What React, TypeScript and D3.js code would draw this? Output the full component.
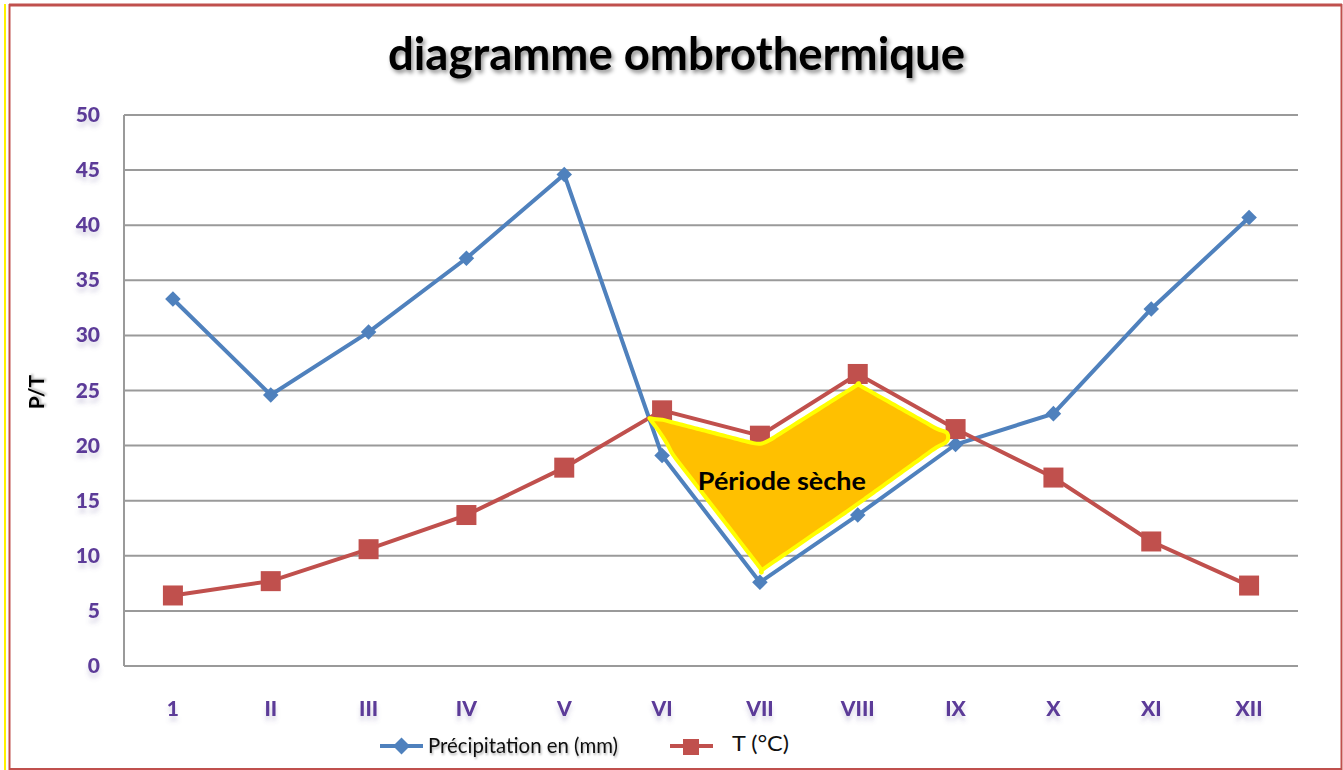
import React from "react";
import * as d3 from "d3";

const months = ["1", "II", "III", "IV", "V", "VI", "VII", "VIII", "IX", "X", "XI", "XII"];
const precipitation = [33.3, 24.6, 30.3, 37.0, 44.6, 19.1, 7.6, 13.7, 20.1, 22.9, 32.4, 40.7];
const temperature = [6.4, 7.7, 10.6, 13.7, 18.0, 23.2, 20.9, 26.5, 21.5, 17.1, 11.3, 7.3];
const yTicks = [0, 5, 10, 15, 20, 25, 30, 35, 40, 45, 50];
// months spanned by the dry period blob (from V/VI crossing to IX)
const dryStart = 4;
const dryEnd = 8;

const W = 1343;
const H = 770;
const plot = { left: 124, right: 1298, top: 115, bottom: 666 };
const BLUE = "#4F81BD";
const RED = "#C0504D";
const PURPLE = "#5B3A98";
const FONT = "Lato, 'Open Sans', sans-serif";

export default function App() {
  const x = d3.scaleBand<string>().domain(months).range([plot.left, plot.right]);
  const cx = (i: number) => (x(months[i]) as number) + x.bandwidth() / 2;
  const y = d3.scaleLinear().domain([0, 50]).range([plot.bottom, plot.top]);

  const line = d3.line<number>().x((_, i) => cx(i)).y((d) => y(d));

  // dry period: where T > P (between V-VI crossing and IX)
  const dP = precipitation[dryStart] - temperature[dryStart];
  const dP2 = precipitation[dryStart + 1] - temperature[dryStart + 1];
  const t = dP / (dP - dP2);
  const crossX = cx(dryStart) + t * (cx(dryStart + 1) - cx(dryStart));
  const endX = cx(dryEnd) - 4;
  const xs = months.map((_, i) => cx(i));
  const yAt = (arr: number[], px: number) => y(d3.scaleLinear().domain(xs).range(arr)(px));
  const N = 60;
  const topPts: [number, number][] = [];
  const botPts: [number, number][] = [];
  for (let k = 0; k <= N; k++) {
    const px = crossX + ((endX - crossX) * k) / N;
    const yt = yAt(temperature, px);
    const yp = yAt(precipitation, px);
    const gap = yp - yt;
    const inset = Math.max(0, Math.min(9, gap * 0.3));
    const h = 0.5;
    // direction of T line
    let dx = 2 * h, dy = yAt(temperature, px + h) - yAt(temperature, px - h);
    let len = Math.hypot(dx, dy);
    topPts.push([px - (dy / len) * inset, yt + (dx / len) * inset]);
    dy = yAt(precipitation, px + h) - yAt(precipitation, px - h);
    len = Math.hypot(dx, dy);
    botPts.push([px + (dy / len) * inset, yp - (dx / len) * inset]);
  }
  const blobPts = [...topPts, ...botPts.reverse()];
  const blob = d3.line().curve(d3.curveBasisClosed)(blobPts) || "";
  const labelX = (cx(dryStart + 2) + cx(dryStart + 3)) / 2 - 27;

  return (
    <svg width={W} height={H} style={{ position: "absolute", left: 0, top: 0, background: "#fff" }}>
      <defs>
        <filter id="tshadow" x="-10%" y="-30%" width="120%" height="180%">
          <feDropShadow dx="2" dy="3" stdDeviation="2" floodColor="#000" floodOpacity="0.45" />
        </filter>
        <filter id="lshadow" x="-30%" y="-30%" width="160%" height="200%">
          <feDropShadow dx="0" dy="5" stdDeviation="2" floodColor="#6a5a9a" floodOpacity="0.25" />
        </filter>
        <filter id="sshadow" x="-10%" y="-30%" width="120%" height="180%">
          <feDropShadow dx="1" dy="2" stdDeviation="1.2" floodColor="#000" floodOpacity="0.3" />
        </filter>
      </defs>
      {/* border */}
      <rect x={0} y={0} width={W} height={H} fill="#fff" />
      <line x1={5} y1={4} x2={5} y2={H} stroke="#FFF200" strokeWidth={2} />
      <rect x={9.5} y={5} width={W - 11} height={H - 6} fill="none" stroke={RED} strokeWidth={2} />
      <line x1={9} y1={5} x2={W - 1} y2={5} stroke={RED} strokeWidth={3} />

      {/* title */}
      <text x={388} y={70} textLength={577} lengthAdjust="spacingAndGlyphs" fontFamily={FONT} fontWeight={700}
        fontSize={45} fill="#000" filter="url(#tshadow)">diagramme ombrothermique</text>

      {/* grid */}
      {yTicks.map((v) => (
        <line key={"g" + v} x1={plot.left} x2={plot.right} y1={y(v)} y2={y(v)} stroke="#9a9a9a" strokeWidth={2} />
      ))}
      <line x1={plot.left} x2={plot.left} y1={plot.top} y2={plot.bottom} stroke="#9a9a9a" strokeWidth={2} />

      {/* y tick labels */}
      {yTicks.map((v) => (
        <text key={"y" + v} x={100} y={y(v) + 7} textAnchor="end" fontFamily={FONT} fontWeight={900}
          fontSize={21} fill={PURPLE} filter="url(#lshadow)">{v}</text>
      ))}
      {/* x tick labels */}
      {months.map((m, i) => (
        <text key={"x" + m} x={cx(i)} y={716} textAnchor="middle" fontFamily={FONT} fontWeight={900}
          fontSize={21} fill={PURPLE} filter="url(#lshadow)">{m}</text>
      ))}
      {/* y axis title */}
      <text transform={`translate(44,392) rotate(-90)`} textAnchor="middle" fontFamily={FONT} fontWeight={700}
        fontSize={21} fill="#000" filter="url(#sshadow)">P/T</text>

      {/* series */}
      <path d={line(precipitation) || ""} fill="none" stroke={BLUE} strokeWidth={4} />
      <path d={line(temperature) || ""} fill="none" stroke={RED} strokeWidth={4} />
      {precipitation.map((v, i) => (
        <rect key={"p" + i} x={cx(i) - 5.5} y={y(v) - 5.5} width={11} height={11} fill={BLUE}
          transform={`rotate(45 ${cx(i)} ${y(v)})`} />
      ))}
      {temperature.map((v, i) => (
        <rect key={"t" + i} x={cx(i) - 10} y={y(v) - 10} width={20} height={20} fill={RED} />
      ))}

      {/* dry period */}
      <path d={blob} fill="#FFC000" stroke="#FFFF00" strokeWidth={4} strokeLinejoin="round" />
      <text x={labelX - 84} y={490} textLength={168} lengthAdjust="spacingAndGlyphs" fontFamily={FONT}
        fontWeight={700} fontSize={24} fill="#000">
        Période sèche
      </text>

      {/* legend */}
      <line x1={380} x2={423} y1={746} y2={746} stroke={BLUE} strokeWidth={4} />
      <rect x={401.5 - 6} y={746 - 6} width={12} height={12} fill={BLUE} transform={`rotate(45 401.5 746)`} />
      <text x={428} y={753} textLength={190} lengthAdjust="spacingAndGlyphs" fontFamily={FONT} fontSize={21}
        fill="#111" filter="url(#sshadow)">Précipitation en (mm)</text>
      <line x1={670} x2={713} y1={746} y2={746} stroke={RED} strokeWidth={4} />
      <rect x={683} y={739} width={16} height={16} fill={RED} />
      <text x={732} y={751} textLength={57} lengthAdjust="spacingAndGlyphs" fontFamily={FONT} fontSize={21}
        fill="#111">T (°C)</text>
    </svg>
  );
}
